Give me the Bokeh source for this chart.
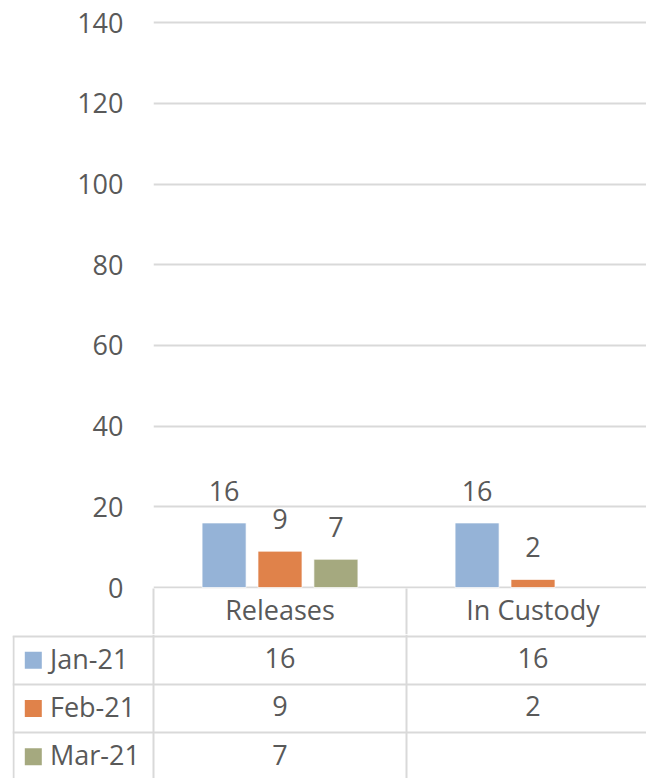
from bokeh.plotting import figure
from bokeh.models import Range1d, FixedTicker, ColumnDataSource
from bokeh.layouts import column
from bokeh.core.properties import value
from bokeh.embed import file_html
from bokeh.resources import INLINE

# ---------------- data ----------------
categories = ["Releases", "In Custody"]
series_names = ["Jan-21", "Feb-21", "Mar-21"]
jan_21 = [16, 16]
feb_21 = [9, 2]
mar_21 = [7, None]
series_values = [jan_21, feb_21, mar_21]
series_colors = ["#95B3D7", "#E0824A", "#A5A97F"]
y_ticks = [0, 20, 40, 60, 80, 100, 120, 140]

# ---------------- style / layout ----------------
FONT = "Open Sans"
FS = "27px"
TXT = "#595959"
GRID = "#D9D9D9"

W = 646
LEFT_A = 153            # left border of chart figure (pixels)
CAT_PX = 253.0          # pixel width of one category
X_END = (W - LEFT_A) / CAT_PX
PX_PER_UNIT = 4.034
FRAME_A_H = 588
HDR_H = 46              # header (category) row below the frame
Y_START = -1.0 / PX_PER_UNIT
Y_END = Y_START + FRAME_A_H / PX_PER_UNIT
BAR_STEP = 0.221
BAR_W = 0.174
n_cat = len(categories)
n_series = len(series_names)

# ---------------- chart figure ----------------
pa = figure(width=W, height=FRAME_A_H + HDR_H, output_backend="svg",
            toolbar_location=None,
            x_range=Range1d(0, X_END), y_range=Range1d(Y_START, Y_END),
            min_border=0, min_border_left=LEFT_A, min_border_bottom=HDR_H)
pa.frame_align = False
pa.outline_line_color = None
pa.xgrid.visible = False
pa.ygrid.ticker = FixedTicker(ticks=y_ticks)
pa.ygrid.grid_line_color = GRID
pa.ygrid.grid_line_width = 2

pa.yaxis.ticker = FixedTicker(ticks=y_ticks)
pa.yaxis.axis_line_color = None
pa.yaxis.major_tick_line_color = None
pa.yaxis.minor_tick_line_color = None
pa.yaxis.major_tick_out = 0
pa.yaxis.minor_tick_out = 0
pa.yaxis.major_label_standoff = 30
pa.yaxis.major_label_text_font = FONT
pa.yaxis.major_label_text_font_size = FS
pa.yaxis.major_label_text_color = TXT

# category axis: labels at category centres, separators as minor ticks
cat_centres = [i + 0.5 for i in range(n_cat)]
pa.xaxis.ticker = FixedTicker(ticks=cat_centres,
                              minor_ticks=list(range(n_cat + 1)))
pa.xaxis.major_label_overrides = {c: name for c, name in zip(cat_centres, categories)}
pa.xaxis.axis_line_color = None
pa.xaxis.major_tick_line_color = None
pa.xaxis.major_tick_out = 0
pa.xaxis.minor_tick_in = 0
pa.xaxis.minor_tick_out = HDR_H
pa.xaxis.minor_tick_line_color = GRID
pa.xaxis.minor_tick_line_width = 2
pa.xaxis.major_label_standoff = 2 - HDR_H
pa.xaxis.major_label_text_font = FONT
pa.xaxis.major_label_text_font_size = FS
pa.xaxis.major_label_text_color = TXT

for s, (vals, col) in enumerate(zip(series_values, series_colors)):
    off = (s - (n_series - 1) / 2) * BAR_STEP
    xs, tops, labels = [], [], []
    for i, v in enumerate(vals):
        if v is None:
            continue
        xs.append(i + 0.5 + off)
        tops.append(v)
        labels.append(str(v))
    src = ColumnDataSource(dict(x=xs, top=tops, label=labels))
    pa.vbar(x="x", top="top", bottom=0, width=BAR_W, source=src,
            fill_color=col, line_color="white", line_width=1, line_alpha=0.7)
    pa.text(x="x", y="top", text="label", source=src, text_align="center",
            text_baseline="middle", y_offset=-32, text_font=value(FONT),
            text_font_size=FS, text_color=TXT)

# ---------------- data table figure ----------------
ROW_PX = 48.3
TOP_B = FRAME_A_H + HDR_H          # page y where table figure starts (634)
FIRST_LINE = 635.5                 # page y of first table row line
H_B = 778 - TOP_B
LEFT_B = 12
yb_top = (FIRST_LINE - TOP_B) / ROW_PX
yb_bot = yb_top - H_B / ROW_PX
xb_start = -(LEFT_A - LEFT_B) / CAT_PX
legend_left = -(LEFT_A - 13) / CAT_PX
swatch_x = -(LEFT_A - 32.8) / CAT_PX
name_x = -(LEFT_A - 49.5) / CAT_PX

pb = figure(width=W, height=H_B, output_backend="svg", toolbar_location=None,
            x_range=Range1d(xb_start, X_END), y_range=Range1d(yb_bot, yb_top),
            x_axis_location=None, y_axis_location=None,
            min_border=0, min_border_left=LEFT_B)
pb.frame_align = False
pb.outline_line_color = None
pb.xgrid.ticker = FixedTicker(ticks=list(range(n_cat + 1)))
pb.ygrid.ticker = FixedTicker(ticks=[-r for r in range(n_series)])
pb.grid.grid_line_color = GRID
pb.grid.grid_line_width = 2

# left border of legend column
pb.segment(x0=[legend_left], y0=[0], x1=[legend_left], y1=[yb_bot - 1],
           line_color=GRID, line_width=2)

# legend column
leg = ColumnDataSource(dict(x=[swatch_x] * n_series, xt=[name_x] * n_series,
                            y=[-(r + 0.5) for r in range(n_series)],
                            t=series_names, c=series_colors))
pb.scatter(x="x", y="y", marker="square", size=17, fill_color="c",
           line_color=None, source=leg)
pb.text(x="xt", y="y", text="t", source=leg, text_align="left",
        text_baseline="middle", y_offset=-2, text_font=value(FONT),
        text_font_size=FS, text_color=TXT)

# value cells
cx, cy, ct = [], [], []
for r, vals in enumerate(series_values):
    for i, v in enumerate(vals):
        if v is None:
            continue
        cx.append(i + 0.5)
        cy.append(-(r + 0.5))
        ct.append(str(v))
cells = ColumnDataSource(dict(x=cx, y=cy, t=ct))
pb.text(x="x", y="y", text="t", source=cells, text_align="center",
        text_baseline="middle", y_offset=-2, text_font=value(FONT),
        text_font_size=FS, text_color=TXT)

layout = column(pa, pb, spacing=0)
open("out.html", "w").write(file_html(layout, INLINE))
